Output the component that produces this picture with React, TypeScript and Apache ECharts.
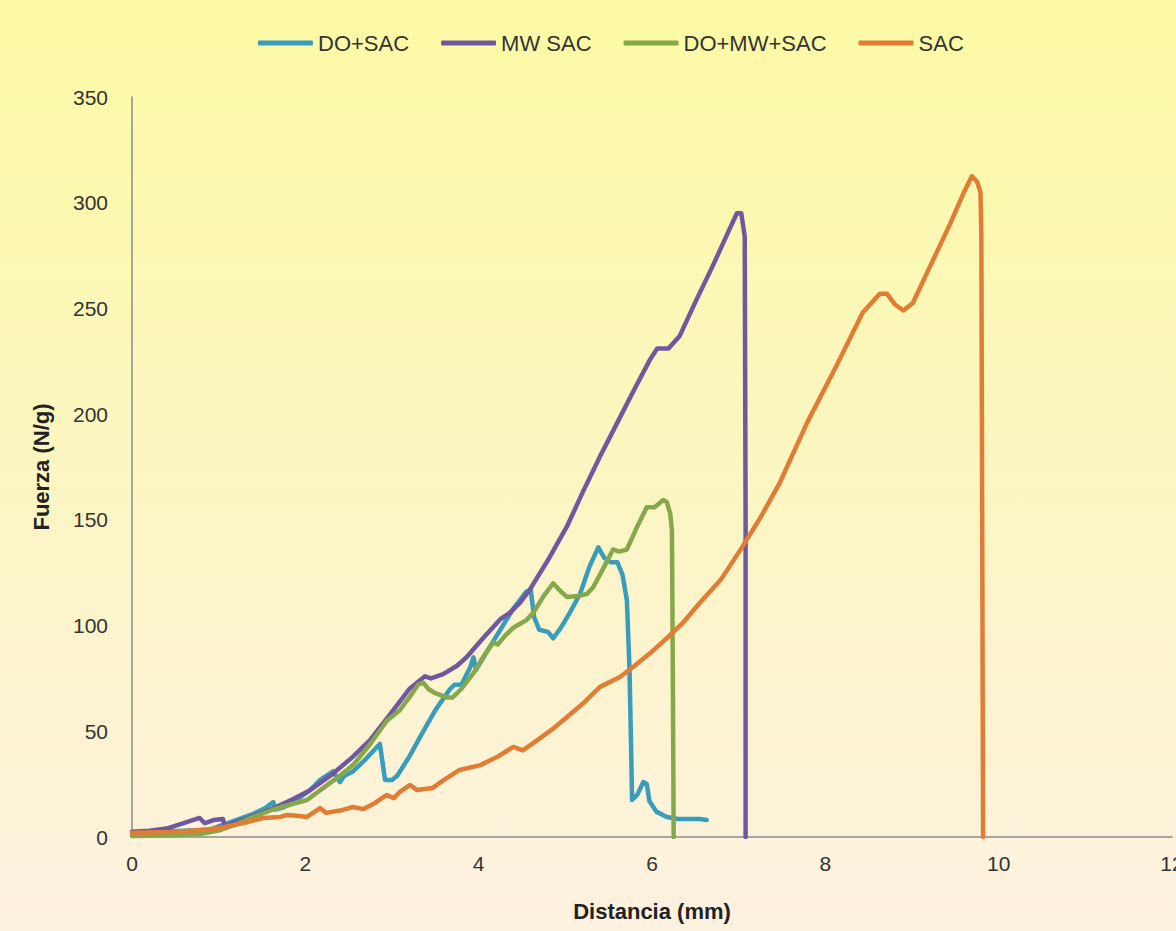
import React, { useEffect, useRef } from "react";
import * as echarts from "echarts";

const seriesNames = ["DO+SAC", "MW SAC", "DO+MW+SAC", "SAC"];
const seriesColors = ["#3A9CBD", "#6F58A0", "#86A84A", "#E07C33"];

const xTicks = { min: 0, max: 12, interval: 2 };
const yTicks = { min: 0, max: 350, interval: 50 };

const doSac: number[][] = [
  [0, 2], [0.3, 2.5], [0.6, 3], [0.9, 3.5], [1.0, 5], [1.2, 8], [1.4, 11], [1.55, 14], [1.63, 16.5],
  [1.66, 13], [1.75, 14], [1.86, 16.5], [2.05, 22], [2.17, 27], [2.32, 31], [2.4, 26], [2.45, 29],
  [2.55, 31], [2.7, 37], [2.86, 44], [2.92, 27], [3.0, 27], [3.06, 29], [3.2, 38], [3.32, 47],
  [3.5, 60], [3.67, 70], [3.72, 72], [3.8, 72], [3.9, 80], [3.94, 85], [3.97, 79], [4.1, 88],
  [4.25, 98], [4.4, 108], [4.55, 116], [4.6, 117], [4.64, 104], [4.7, 98], [4.8, 97], [4.86, 94],
  [4.95, 99], [5.05, 106], [5.17, 115], [5.28, 128], [5.38, 137], [5.45, 132], [5.52, 130],
  [5.6, 130], [5.66, 124], [5.71, 112], [5.74, 80], [5.76, 40], [5.77, 17.5], [5.83, 20],
  [5.9, 26], [5.94, 25], [5.97, 17], [6.05, 12], [6.17, 9.5], [6.3, 8.5], [6.55, 8.5], [6.63, 8],
];

const mwSac: number[][] = [
  [0, 2.5], [0.2, 3], [0.4, 4], [0.55, 6], [0.7, 8], [0.78, 9], [0.84, 6.5], [0.94, 8], [1.05, 8.5],
  [1.07, 5], [1.2, 7], [1.4, 10], [1.6, 13], [1.86, 18], [2.05, 22], [2.32, 30], [2.55, 38],
  [2.75, 46], [2.94, 56], [3.09, 64], [3.2, 70], [3.32, 74], [3.38, 76], [3.45, 75], [3.59, 77],
  [3.75, 81], [3.86, 85], [4.05, 94], [4.25, 103], [4.36, 106], [4.48, 111], [4.59, 117],
  [4.8, 131], [5.02, 147], [5.2, 163], [5.4, 180], [5.6, 196], [5.8, 212], [5.98, 226],
  [6.06, 231], [6.19, 231], [6.32, 237], [6.5, 253], [6.7, 270], [6.9, 288], [6.98, 295],
  [7.03, 295], [7.07, 284], [7.08, 150], [7.08, 0],
];

const doMwSac: number[][] = [
  [0, 0.5], [0.3, 0.7], [0.52, 1], [0.8, 1.5], [1.0, 3], [1.2, 6], [1.4, 9.5], [1.63, 13],
  [1.8, 15], [2.02, 17.5], [2.2, 23], [2.4, 29], [2.55, 34], [2.75, 44], [2.94, 55], [3.09, 60],
  [3.2, 66], [3.3, 72], [3.36, 73], [3.42, 70], [3.5, 68], [3.63, 66], [3.7, 66], [3.8, 70],
  [3.94, 77.5], [4.05, 85], [4.17, 92], [4.22, 91], [4.3, 95], [4.4, 99], [4.55, 102.6],
  [4.63, 106], [4.75, 114], [4.86, 120], [4.95, 116], [5.02, 113.5], [5.15, 114], [5.25, 115],
  [5.32, 118], [5.45, 128], [5.55, 136], [5.62, 135], [5.71, 136], [5.82, 146], [5.94, 156],
  [6.03, 156], [6.13, 159.4], [6.17, 158.5], [6.21, 153], [6.23, 145], [6.24, 80], [6.25, 0],
];

const sac: number[][] = [
  [0, 2], [0.44, 2.4], [0.82, 3.3], [1.01, 4.3], [1.33, 7], [1.51, 9], [1.71, 9.5], [1.79, 10.4],
  [1.9, 10], [2.02, 9.5], [2.17, 13.7], [2.24, 11.4], [2.4, 12.5], [2.55, 14.2], [2.67, 13.2],
  [2.8, 16], [2.94, 19.9], [3.02, 18.4], [3.09, 21.3], [3.21, 24.6], [3.29, 22.2], [3.47, 23.2],
  [3.6, 27], [3.78, 31.7], [4.02, 34], [4.21, 37.8], [4.4, 42.6], [4.51, 41], [4.71, 46.8],
  [4.85, 51], [5.02, 56.8], [5.2, 63], [5.4, 71], [5.63, 75.7], [5.8, 81], [5.98, 87],
  [6.17, 94], [6.35, 101], [6.55, 110.7], [6.8, 122], [7.02, 135.8], [7.25, 151], [7.48, 168],
  [7.79, 196], [8.13, 223], [8.43, 248], [8.63, 257], [8.71, 257], [8.8, 252], [8.9, 249],
  [9.01, 252.6], [9.21, 270], [9.44, 290], [9.6, 305], [9.69, 312.5], [9.75, 310], [9.79, 305],
  [9.8, 285], [9.81, 150], [9.82, 0],
];

const seriesData = [doSac, mwSac, doMwSac, sac];

const FONT = "'Liberation Sans', Arial, sans-serif";

export default function App() {
  const ref = useRef<HTMLDivElement>(null);
  useEffect(() => {
    if (!ref.current) return;
    const chart = echarts.init(ref.current, null, { renderer: "svg" });
    chart.setOption({
      animation: false,
      backgroundColor: new echarts.graphic.LinearGradient(0, 0, 0, 1, [
        { offset: 0, color: "#FCFAA4" },
        { offset: 0.45, color: "#FBF6BE" },
        { offset: 1, color: "#FDF1E0" },
      ]),
      textStyle: { fontFamily: FONT },
      legend: {
        left: 253,
        top: 27,
        icon: "roundRect",
        itemWidth: 55,
        itemHeight: 5,
        itemGap: 32,
        textStyle: { fontFamily: FONT, fontSize: 22, color: "#333" },
        data: seriesNames,
      },
      grid: { left: 132, right: 4, top: 97, bottom: 94, outerBoundsMode: "none", containLabel: false },
      xAxis: {
        type: "value",
        min: xTicks.min,
        max: xTicks.max,
        interval: xTicks.interval,
        name: "Distancia (mm)",
        nameLocation: "middle",
        nameGap: 63,
        nameTextStyle: { fontFamily: FONT, fontSize: 22, fontWeight: "bold", color: "#222" },
        axisLine: { show: true, lineStyle: { color: "#8c8c8c", width: 1.5 } },
        axisTick: { show: false },
        splitLine: { show: false },
        axisLabel: { fontFamily: FONT, fontSize: 21, color: "#333", margin: 16 },
      },
      yAxis: {
        type: "value",
        min: yTicks.min,
        max: yTicks.max,
        interval: yTicks.interval,
        name: "Fuerza (N/g)",
        nameLocation: "middle",
        nameGap: 80,
        nameTextStyle: { fontFamily: FONT, fontSize: 22, fontWeight: "bold", color: "#222" },
        axisLine: { show: true, lineStyle: { color: "#8c8c8c", width: 1.5 } },
        axisTick: { show: false },
        splitLine: { show: false },
        axisLabel: { fontFamily: FONT, fontSize: 21, color: "#333", margin: 24 },
      },
      series: seriesNames.map((name, i) => ({
        name,
        type: "line",
        data: seriesData[i],
        symbol: "none",
        smooth: false,
        lineStyle: { color: seriesColors[i], width: 4.5, cap: "round", join: "round" },
        itemStyle: { color: seriesColors[i] },
      })),
    });
    return () => chart.dispose();
  }, []);
  return (
    <div
      ref={ref}
      style={{ position: "fixed", left: 0, top: 0, width: 1176, height: 931 }}
    />
  );
}
